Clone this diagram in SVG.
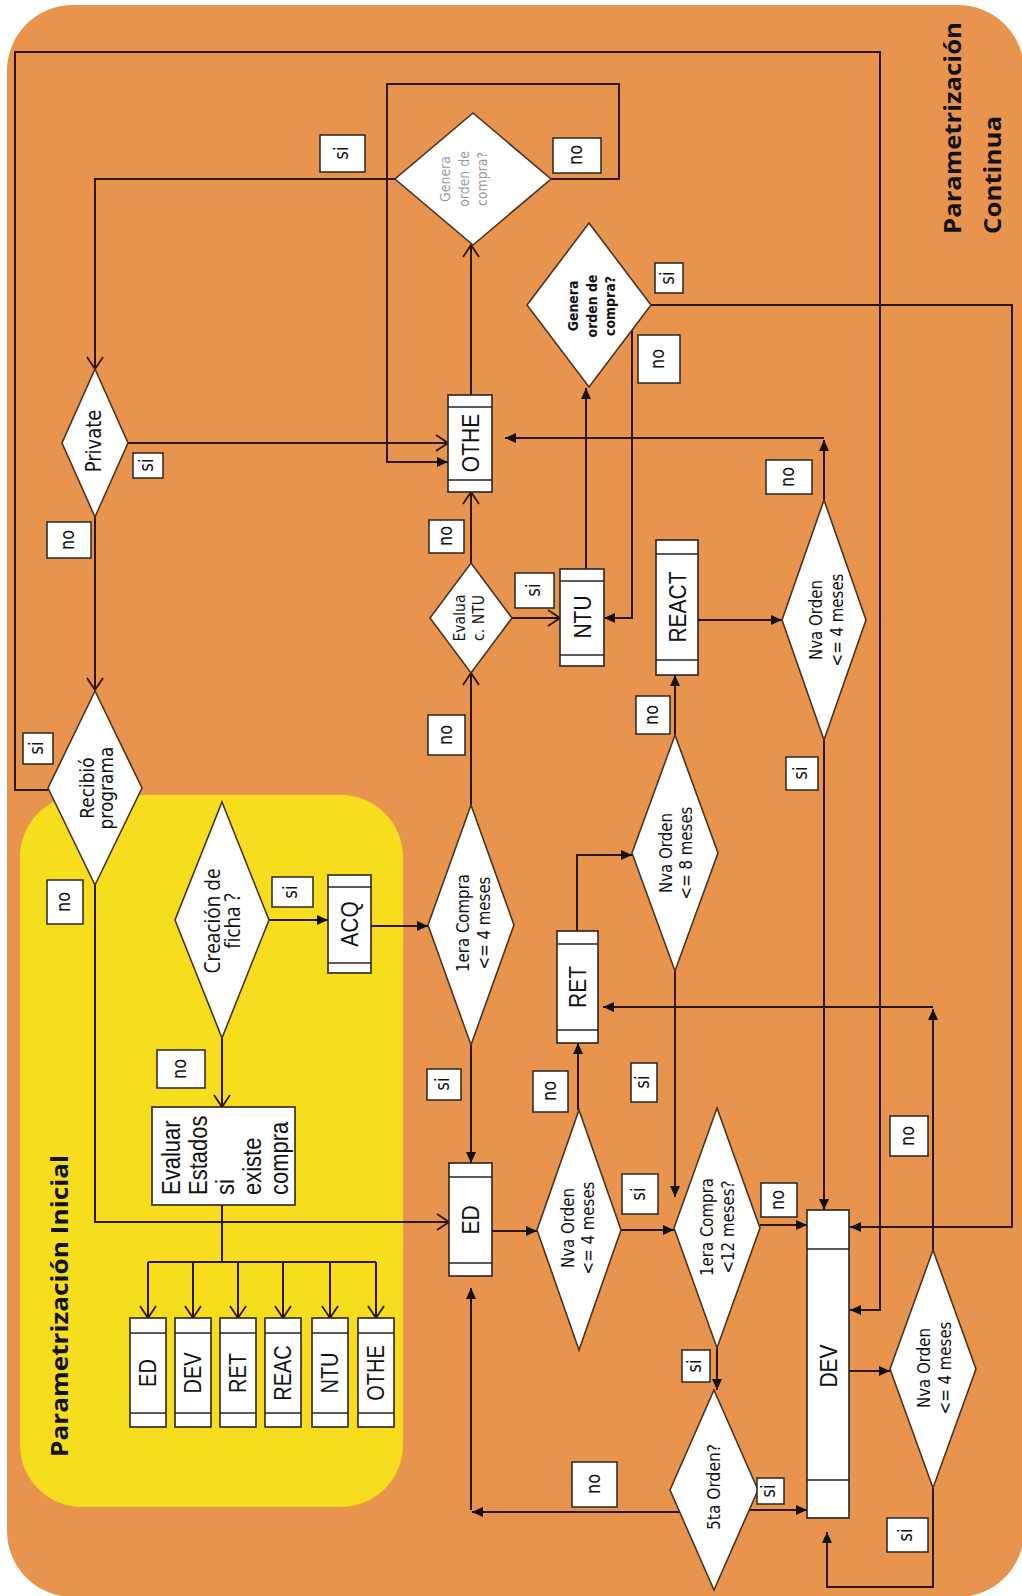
<svg xmlns="http://www.w3.org/2000/svg" width="1022" height="1596" viewBox="0 0 1022 1596">
<style>
.bg{fill:#E8944F}
.yl{fill:#F6DD1D}
.nd{fill:#fff;stroke:#2a2420;stroke-width:1.6}
.dm{fill:#fff;stroke:#4a3322;stroke-width:1.6}
.lb{fill:#fff;stroke:#2a2420;stroke-width:1.5}
.cn{fill:none;stroke:#2b1608;stroke-width:2}
.bl{stroke:#2a2420;stroke-width:1.4}
.a{font-family:"Liberation Sans",Arial,sans-serif;fill:#111}
.d{font-family:"DejaVu Sans",Verdana,sans-serif;fill:#111}
.o{font-family:"Open Sans","DejaVu Sans",sans-serif;fill:#111}
.ttl{font-family:"Open Sans","Liberation Sans",sans-serif;font-weight:bold;fill:#111;font-size:24px}
.lt{font-family:"DejaVu Sans",Verdana,sans-serif;fill:#111;font-size:16px}
</style>
<defs>
<marker id="ao" viewBox="0 0 14 18" refX="13" refY="9" markerWidth="14" markerHeight="18" markerUnits="userSpaceOnUse" orient="auto"><path d="M1,1 L13,9 L1,17" fill="none" stroke="#2b1608" stroke-width="1.8"/></marker>
<marker id="af" viewBox="0 0 12 12" refX="12" refY="6" markerWidth="12" markerHeight="11" markerUnits="userSpaceOnUse" orient="auto"><path d="M0,0.5 L12,6 L0,11.5 z" fill="#111"/></marker>
</defs>
<rect x="0" y="0" width="1022" height="1596" fill="#fff"/>
<rect class="bg" x="7" y="5" width="1017" height="1592" rx="66"/>
<rect class="yl" x="20" y="795" width="383" height="712" rx="62"/>

<g id="connectors">
<path class="cn" d="M128,443 H448" marker-end="url(#ao)"/>
<path class="cn" d="M395,179 H95 V369" marker-end="url(#ao)"/>
<path class="cn" d="M95,517 V690" marker-end="url(#ao)"/>
<path class="cn" d="M49,790 H15 V52 H880 V1310 H850" marker-end="url(#af)"/>
<path class="cn" d="M95,885 V1222 H449" marker-end="url(#ao)"/>
<path class="cn" d="M269,920 H328" marker-end="url(#af)"/>
<path class="cn" d="M222,1038 V1107" marker-end="url(#ao)"/>
<path class="cn" d="M222,1205 V1262 M148,1262 H376"/>
<path class="cn" d="M148,1262 V1318" marker-end="url(#ao)"/>
<path class="cn" d="M193,1262 V1318" marker-end="url(#ao)"/>
<path class="cn" d="M238,1262 V1318" marker-end="url(#ao)"/>
<path class="cn" d="M283,1262 V1318" marker-end="url(#ao)"/>
<path class="cn" d="M330,1262 V1318" marker-end="url(#ao)"/>
<path class="cn" d="M376,1262 V1318" marker-end="url(#ao)"/>
<path class="cn" d="M371,926 H428" marker-end="url(#af)"/>
<path class="cn" d="M471,805 V673" marker-end="url(#ao)"/>
<path class="cn" d="M471,563 V492" marker-end="url(#ao)"/>
<path class="cn" d="M512,618 H560" marker-end="url(#ao)"/>
<path class="cn" d="M586,569 V388" marker-end="url(#af)"/>
<path class="cn" d="M471,395 V245" marker-end="url(#ao)"/>
<path class="cn" d="M551,179 H619 V84 H387 V462 H448" marker-end="url(#af)"/>
<path class="cn" d="M651,305 H1012 V1227 H850" marker-end="url(#af)"/>
<path class="cn" d="M632,330 V618 H604" marker-end="url(#af)"/>
<path class="cn" d="M471,1045 V1163" marker-end="url(#af)"/>
<path class="cn" d="M492,1231 H537" marker-end="url(#af)"/>
<path class="cn" d="M578,1110 V1043" marker-end="url(#af)"/>
<path class="cn" d="M577,931 V855 H632" marker-end="url(#af)"/>
<path class="cn" d="M675,735 V675" marker-end="url(#af)"/>
<path class="cn" d="M698,620 H782" marker-end="url(#af)"/>
<path class="cn" d="M824,500 V440" marker-end="url(#af)"/>
<path class="cn" d="M824,438 H505" marker-end="url(#af)"/>
<path class="cn" d="M824,740 V1210" marker-end="url(#af)"/>
<path class="cn" d="M675,971 V1197" marker-end="url(#af)"/>
<path class="cn" d="M621,1230 H674" marker-end="url(#af)"/>
<path class="cn" d="M760,1225 H807" marker-end="url(#af)"/>
<path class="cn" d="M717,1348 V1390" marker-end="url(#af)"/>
<path class="cn" d="M750,1510 H807" marker-end="url(#af)"/>
<path class="cn" d="M680,1512 H472" marker-end="url(#af)"/>
<path class="cn" d="M471,1510 V1288" marker-end="url(#af)"/>
<path class="cn" d="M849,1371 H890" marker-end="url(#af)"/>
<path class="cn" d="M933,1488 V1587 H827 V1532" marker-end="url(#af)"/>
<path class="cn" d="M933,1250 V1009" marker-end="url(#af)"/>
<path class="cn" d="M933,1007 H603" marker-end="url(#af)"/>
</g>

<g id="titles">
<text class="ttl" transform="translate(961,234) rotate(-90)" textLength="212" lengthAdjust="spacingAndGlyphs">Parametrización</text>
<text class="ttl" transform="translate(1001,234) rotate(-90)" textLength="118" lengthAdjust="spacingAndGlyphs">Continua</text>
<text class="ttl" transform="translate(68,1457) rotate(-90)" textLength="302" lengthAdjust="spacingAndGlyphs">Parametrización Inicial</text>
</g>

<g id="private">
<polygon class="dm" points="95,369 128,443 95,517 62,443"/>
<text class="d" font-size="18" text-anchor="middle" transform="translate(101,441) rotate(-90) scale(1,1.18)">Private</text>
</g>
<g id="recibio">
<polygon class="dm" points="95,691 142,788 95,885 48,788"/>
<text class="d" font-size="17" text-anchor="middle" transform="translate(94,788) rotate(-90) scale(1,1.18)">Recibió</text>
<text class="d" font-size="17" text-anchor="middle" transform="translate(113,788) rotate(-90) scale(1,1.18)">programa</text>
</g>
<g id="creacion">
<polygon class="dm" points="222,802 269,920 222,1038 175,920"/>
<text class="o" font-size="19" text-anchor="middle" transform="translate(220,921) rotate(-90) scale(1,1.15)">Creación de</text>
<text class="o" font-size="19" text-anchor="middle" transform="translate(240,921) rotate(-90) scale(1,1.15)">ficha ?</text>
</g>
<g id="evaluar">
<rect class="nd" x="152" y="1107" width="143" height="98"/>
<text class="a" font-size="22" transform="translate(180,1195) rotate(-90) scale(1,1.18)">Evaluar</text>
<text class="a" font-size="22" transform="translate(207,1195) rotate(-90) scale(1,1.18)">Estados</text>
<text class="a" font-size="22" transform="translate(234,1195) rotate(-90) scale(1,1.18)">si</text>
<text class="a" font-size="22" transform="translate(261,1195) rotate(-90) scale(1,1.18)">existe</text>
<text class="a" font-size="22" transform="translate(288,1195) rotate(-90) scale(1,1.18)">compra</text>
</g>
<g id="ini-ed">
<rect class="nd" x="130" y="1318" width="36" height="109"/>
<path class="bl" d="M130,1333 H166 M130,1413 H166"/>
<text class="a" font-size="20" text-anchor="middle" transform="translate(156,1373) rotate(-90) scale(1,1.18)">ED</text>
</g>
<g id="ini-dev">
<rect class="nd" x="175" y="1318" width="36" height="109"/>
<path class="bl" d="M175,1333 H211 M175,1413 H211"/>
<text class="a" font-size="20" text-anchor="middle" transform="translate(201,1373) rotate(-90) scale(1,1.18)">DEV</text>
</g>
<g id="ini-ret">
<rect class="nd" x="220" y="1318" width="36" height="109"/>
<path class="bl" d="M220,1333 H256 M220,1413 H256"/>
<text class="a" font-size="20" text-anchor="middle" transform="translate(246,1373) rotate(-90) scale(1,1.18)">RET</text>
</g>
<g id="ini-reac">
<rect class="nd" x="265" y="1318" width="36" height="109"/>
<path class="bl" d="M265,1333 H301 M265,1413 H301"/>
<text class="a" font-size="20" text-anchor="middle" transform="translate(291,1373) rotate(-90) scale(1,1.18)">REAC</text>
</g>
<g id="ini-ntu">
<rect class="nd" x="312" y="1318" width="36" height="109"/>
<path class="bl" d="M312,1333 H348 M312,1413 H348"/>
<text class="a" font-size="20" text-anchor="middle" transform="translate(338,1373) rotate(-90) scale(1,1.18)">NTU</text>
</g>
<g id="ini-othe">
<rect class="nd" x="358" y="1318" width="36" height="109"/>
<path class="bl" d="M358,1333 H394 M358,1413 H394"/>
<text class="a" font-size="20" text-anchor="middle" transform="translate(384,1373) rotate(-90) scale(1,1.18)">OTHE</text>
</g>
<g id="acq">
<rect class="nd" x="328" y="875" width="43" height="98"/>
<path class="bl" d="M328,887 H371 M328,963 H371"/>
<text class="a" font-size="21" text-anchor="middle" transform="translate(358,924) rotate(-90) scale(1,1.18)">ACQ</text>
</g>
<g id="primera4">
<polygon class="dm" points="471,805 514,925 471,1045 428,925"/>
<text class="d" font-size="15" text-anchor="middle" transform="translate(469,923) rotate(-90) scale(1,1.18)">1era Compra</text>
<text class="d" font-size="15" text-anchor="middle" transform="translate(490,923) rotate(-90) scale(1,1.18)">&lt;= 4 meses</text>
</g>
<g id="evalua">
<polygon class="dm" points="471,563 512,618 471,673 430,618"/>
<text class="d" font-size="14" text-anchor="middle" transform="translate(465,618) rotate(-90) scale(1,1.18)">Evalua</text>
<text class="d" font-size="14" text-anchor="middle" transform="translate(484,618) rotate(-90) scale(1,1.18)">c. NTU</text>
</g>
<g id="othe">
<rect class="nd" x="448" y="395" width="44" height="97"/>
<path class="bl" d="M448,407 H492 M448,480 H492"/>
<text class="a" font-size="21" text-anchor="middle" transform="translate(479,443) rotate(-90) scale(1,1.18)">OTHE</text>
</g>
<g id="genera1">
<polygon class="dm" points="473,113 551,179 473,245 395,179"/>
<text class="d" font-size="12.5" fill="#9a9a9a" style="fill:#9a9a9a" text-anchor="middle" transform="translate(450,179) rotate(-90) scale(1,1.15)">Genera</text>
<text class="d" font-size="12.5" style="fill:#9a9a9a" text-anchor="middle" transform="translate(469,179) rotate(-90) scale(1,1.15)">orden de</text>
<text class="d" font-size="12.5" style="fill:#9a9a9a" text-anchor="middle" transform="translate(487,179) rotate(-90) scale(1,1.15)">compra?</text>
</g>
<g id="ntu">
<rect class="nd" x="560" y="569" width="44" height="97"/>
<path class="bl" d="M560,581 H604 M560,655 H604"/>
<text class="a" font-size="21" text-anchor="middle" transform="translate(591,617) rotate(-90) scale(1,1.18)">NTU</text>
</g>
<g id="genera2">
<polygon class="dm" points="589,223 651,305 589,387 527,305"/>
<text class="d" font-size="12.5" font-weight="bold" text-anchor="middle" transform="translate(578,306) rotate(-90) scale(1,1.15)">Genera</text>
<text class="d" font-size="12.5" font-weight="bold" text-anchor="middle" transform="translate(597,306) rotate(-90) scale(1,1.15)">orden de</text>
<text class="d" font-size="12.5" font-weight="bold" text-anchor="middle" transform="translate(615,306) rotate(-90) scale(1,1.15)">compra?</text>
</g>
<g id="react">
<rect class="nd" x="656" y="540" width="42" height="135"/>
<path class="bl" d="M656,554 H698 M656,660 H698"/>
<text class="a" font-size="21" text-anchor="middle" transform="translate(686,607) rotate(-90) scale(1,1.18)">REACT</text>
</g>
<g id="nva4-top">
<polygon class="dm" points="824,500 866,620 824,740 782,620"/>
<text class="d" font-size="15" text-anchor="middle" transform="translate(822,620) rotate(-90) scale(1,1.18)">Nva Orden</text>
<text class="d" font-size="15" text-anchor="middle" transform="translate(843,620) rotate(-90) scale(1,1.18)">&lt;= 4 meses</text>
</g>
<g id="ret">
<rect class="nd" x="557" y="931" width="41" height="112"/>
<path class="bl" d="M557,944 H598 M557,1030 H598"/>
<text class="a" font-size="21" text-anchor="middle" transform="translate(586,987) rotate(-90) scale(1,1.18)">RET</text>
</g>
<g id="nva8">
<polygon class="dm" points="675,735 718,853 675,971 632,853"/>
<text class="d" font-size="15" text-anchor="middle" transform="translate(672,853) rotate(-90) scale(1,1.18)">Nva Orden</text>
<text class="d" font-size="15" text-anchor="middle" transform="translate(692,853) rotate(-90) scale(1,1.18)">&lt;= 8 meses</text>
</g>
<g id="ed">
<rect class="nd" x="449" y="1163" width="43" height="113"/>
<path class="bl" d="M449,1177 H492 M449,1263 H492"/>
<text class="a" font-size="21" text-anchor="middle" transform="translate(479,1220) rotate(-90) scale(1,1.18)">ED</text>
</g>
<g id="nva4-mid">
<polygon class="dm" points="579,1110 621,1230 579,1350 537,1230"/>
<text class="d" font-size="15" text-anchor="middle" transform="translate(574,1228) rotate(-90) scale(1,1.18)">Nva Orden</text>
<text class="d" font-size="15" text-anchor="middle" transform="translate(594,1228) rotate(-90) scale(1,1.18)">&lt;= 4 meses</text>
</g>
<g id="primera12">
<polygon class="dm" points="717,1108 760,1228 717,1348 674,1228"/>
<text class="d" font-size="15" text-anchor="middle" transform="translate(713,1227) rotate(-90) scale(1,1.18)">1era Compra</text>
<text class="d" font-size="15" text-anchor="middle" transform="translate(734,1227) rotate(-90) scale(1,1.18)">&lt;12 meses?</text>
</g>
<g id="quinta">
<polygon class="dm" points="714,1390 758,1490 714,1590 670,1490"/>
<text class="d" font-size="15.5" text-anchor="middle" transform="translate(720,1487) rotate(-90) scale(1,1.18)">5ta Orden?</text>
</g>
<g id="dev">
<rect class="nd" x="807" y="1210" width="42" height="308"/>
<path class="bl" d="M807,1249 H849 M807,1480 H849"/>
<text class="a" font-size="21" text-anchor="middle" transform="translate(837,1366) rotate(-90) scale(1,1.18)">DEV</text>
</g>
<g id="nva4-bot">
<polygon class="dm" points="933,1250 976,1369 933,1488 890,1369"/>
<text class="d" font-size="15" text-anchor="middle" transform="translate(930,1368) rotate(-90) scale(1,1.18)">Nva Orden</text>
<text class="d" font-size="15" text-anchor="middle" transform="translate(951,1368) rotate(-90) scale(1,1.18)">&lt;= 4 meses</text>
</g>

<g id="labels">
<rect class="lb" x="320" y="135" width="45" height="37"/><text class="lt" text-anchor="middle" transform="translate(348,153) rotate(-90) scale(1,1.18)">si</text>
<rect class="lb" x="553" y="138" width="48" height="35"/><text class="lt" text-anchor="middle" transform="translate(582,155) rotate(-90) scale(1,1.18)">no</text>
<rect class="lb" x="655" y="263" width="28" height="30"/><text class="lt" text-anchor="middle" transform="translate(674,278) rotate(-90) scale(1,1.18)">si</text>
<rect class="lb" x="638" y="335" width="42" height="48"/><text class="lt" text-anchor="middle" transform="translate(664,359) rotate(-90) scale(1,1.18)">no</text>
<rect class="lb" x="133" y="453" width="30" height="25"/><text class="lt" text-anchor="middle" transform="translate(153,465) rotate(-90) scale(1,1.18)">si</text>
<rect class="lb" x="47" y="522" width="44" height="36"/><text class="lt" text-anchor="middle" transform="translate(74,540) rotate(-90) scale(1,1.18)">no</text>
<rect class="lb" x="23" y="733" width="30" height="31"/><text class="lt" text-anchor="middle" transform="translate(43,748) rotate(-90) scale(1,1.18)">si</text>
<rect class="lb" x="47" y="880" width="36" height="44"/><text class="lt" text-anchor="middle" transform="translate(70,902) rotate(-90) scale(1,1.18)">no</text>
<rect class="lb" x="272" y="877" width="41" height="30"/><text class="lt" text-anchor="middle" transform="translate(297,892) rotate(-90) scale(1,1.18)">si</text>
<rect class="lb" x="157" y="1050" width="48" height="38"/><text class="lt" text-anchor="middle" transform="translate(186,1069) rotate(-90) scale(1,1.18)">no</text>
<rect class="lb" x="429" y="520" width="35" height="33"/><text class="lt" text-anchor="middle" transform="translate(452,536) rotate(-90) scale(1,1.18)">no</text>
<rect class="lb" x="428" y="715" width="37" height="40"/><text class="lt" text-anchor="middle" transform="translate(452,735) rotate(-90) scale(1,1.18)">no</text>
<rect class="lb" x="515" y="573" width="39" height="35"/><text class="lt" text-anchor="middle" transform="translate(540,590) rotate(-90) scale(1,1.18)">si</text>
<rect class="lb" x="636" y="696" width="34" height="38"/><text class="lt" text-anchor="middle" transform="translate(658,715) rotate(-90) scale(1,1.18)">no</text>
<rect class="lb" x="766" y="460" width="46" height="34"/><text class="lt" text-anchor="middle" transform="translate(794,477) rotate(-90) scale(1,1.18)">no</text>
<rect class="lb" x="786" y="757" width="32" height="33"/><text class="lt" text-anchor="middle" transform="translate(807,773) rotate(-90) scale(1,1.18)">si</text>
<rect class="lb" x="427" y="1069" width="34" height="31"/><text class="lt" text-anchor="middle" transform="translate(449,1084) rotate(-90) scale(1,1.18)">si</text>
<rect class="lb" x="533" y="1071" width="35" height="41"/><text class="lt" text-anchor="middle" transform="translate(556,1091) rotate(-90) scale(1,1.18)">no</text>
<rect class="lb" x="631" y="1063" width="26" height="39"/><text class="lt" text-anchor="middle" transform="translate(649,1082) rotate(-90) scale(1,1.18)">si</text>
<rect class="lb" x="890" y="1116" width="38" height="40"/><text class="lt" text-anchor="middle" transform="translate(914,1136) rotate(-90) scale(1,1.18)">no</text>
<rect class="lb" x="622" y="1174" width="36" height="40"/><text class="lt" text-anchor="middle" transform="translate(645,1194) rotate(-90) scale(1,1.18)">si</text>
<rect class="lb" x="761" y="1183" width="36" height="34"/><text class="lt" text-anchor="middle" transform="translate(784,1200) rotate(-90) scale(1,1.18)">no</text>
<rect class="lb" x="682" y="1350" width="28" height="32"/><text class="lt" text-anchor="middle" transform="translate(701,1366) rotate(-90) scale(1,1.18)">si</text>
<rect class="lb" x="757" y="1478" width="27" height="26"/><text class="lt" text-anchor="middle" transform="translate(775,1491) rotate(-90) scale(1,1.18)">si</text>
<rect class="lb" x="572" y="1462" width="45" height="45"/><text class="lt" text-anchor="middle" transform="translate(600,1484) rotate(-90) scale(1,1.18)">no</text>
<rect class="lb" x="887" y="1518" width="41" height="34"/><text class="lt" text-anchor="middle" transform="translate(912,1535) rotate(-90) scale(1,1.18)">si</text>
</g>
</svg>
